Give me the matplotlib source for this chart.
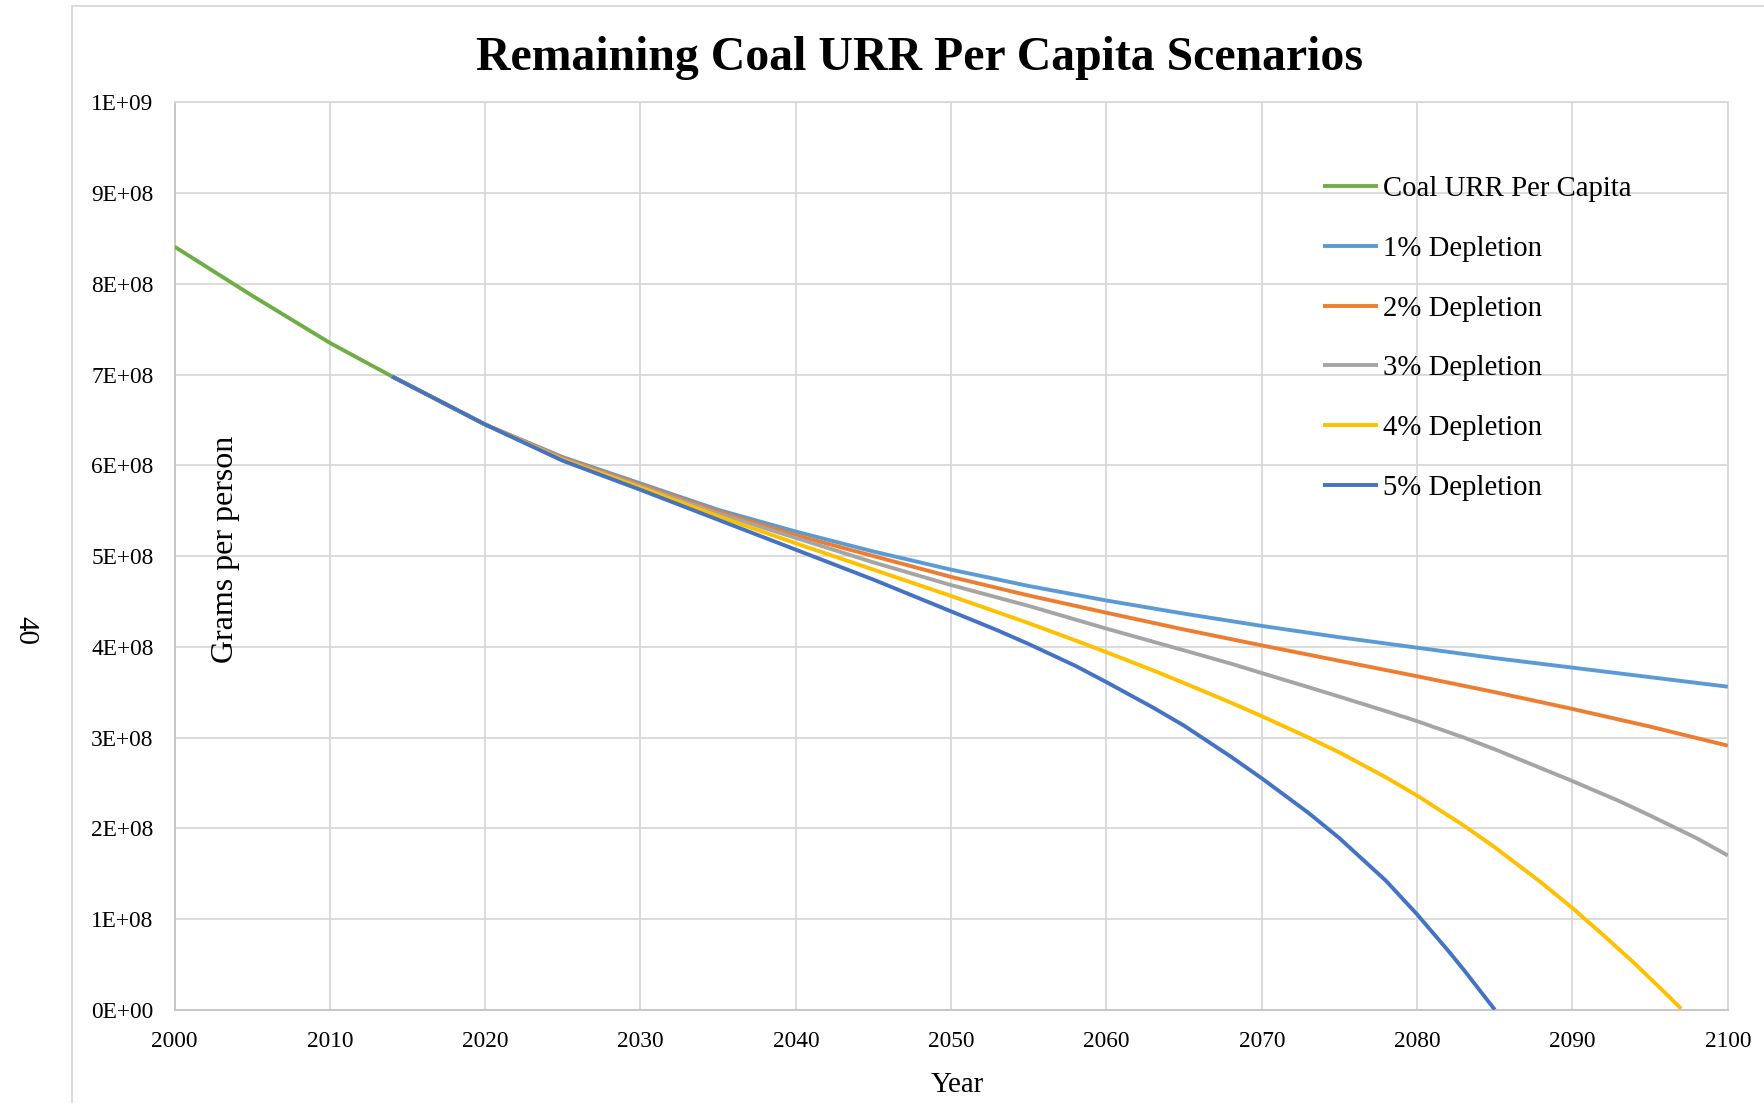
import matplotlib
matplotlib.use('Agg')
import matplotlib.pyplot as plt
from matplotlib.lines import Line2D
from matplotlib.ticker import FuncFormatter, MultipleLocator

plt.rcParams['font.family'] = ['Liberation Serif', 'DejaVu Serif']

# ---------------- data ----------------
hist_years = [2000, 2005, 2010, 2014]
hist_values = [8.41e8, 7.87e8, 7.35e8, 6.98e8]

scen_years = [2014, 2020, 2025, 2030, 2035, 2040, 2045, 2050, 2055, 2060,
              2065, 2070, 2075, 2080, 2085, 2090, 2095, 2100]
dep1 = [6.98e8, 6.45e8, 6.09e8, 5.80e8, 5.51e8, 5.27e8, 5.05e8, 4.85e8, 4.67e8, 4.51e8,
        4.365e8, 4.23e8, 4.105e8, 3.99e8, 3.875e8, 3.77e8, 3.665e8, 3.56e8]
dep2 = [6.98e8, 6.45e8, 6.08e8, 5.785e8, 5.49e8, 5.23e8, 5.00e8, 4.77e8, 4.565e8, 4.375e8,
        4.19e8, 4.015e8, 3.845e8, 3.675e8, 3.50e8, 3.315e8, 3.12e8, 2.91e8]

dep3_years = [2014, 2020, 2025, 2030, 2035, 2040, 2045, 2050, 2055, 2060,
              2065, 2068, 2070, 2073, 2075, 2078, 2080, 2083, 2085, 2088, 2090,
              2093, 2095, 2098, 2100]
dep3 = [6.98e8, 6.45e8, 6.07e8, 5.77e8, 5.47e8, 5.20e8, 4.93e8, 4.68e8, 4.45e8, 4.20e8,
        3.96e8, 3.815e8, 3.71e8, 3.555e8, 3.45e8, 3.29e8, 3.18e8, 3.00e8, 2.87e8, 2.66e8,
        2.52e8, 2.30e8, 2.14e8, 1.89e8, 1.70e8]

dep4_years = [2014, 2020, 2025, 2030, 2035, 2040, 2045, 2050, 2053, 2055, 2058, 2060,
              2063, 2065, 2068, 2070, 2073, 2075, 2078, 2080, 2083, 2085, 2088, 2090,
              2092, 2094, 2096, 2097]
dep4 = [6.98e8, 6.45e8, 6.06e8, 5.755e8, 5.44e8, 5.14e8, 4.85e8, 4.56e8, 4.38e8, 4.26e8,
        4.07e8, 3.94e8, 3.74e8, 3.60e8, 3.385e8, 3.235e8, 3.00e8, 2.835e8, 2.56e8, 2.36e8,
        2.03e8, 1.79e8, 1.40e8, 1.12e8, 0.82e8, 0.51e8, 0.18e8, 0.01e8]

dep5_years = [2014, 2020, 2025, 2030, 2035, 2040, 2045, 2050, 2053, 2055, 2058, 2060,
              2063, 2065, 2068, 2070, 2073, 2075, 2078, 2080, 2082, 2083, 2084, 2085]
dep5 = [6.98e8, 6.45e8, 6.05e8, 5.73e8, 5.40e8, 5.07e8, 4.74e8, 4.39e8, 4.18e8, 4.03e8,
        3.79e8, 3.61e8, 3.33e8, 3.13e8, 2.79e8, 2.55e8, 2.17e8, 1.89e8, 1.42e8, 1.05e8,
        0.65e8, 0.44e8, 0.22e8, 0.0]

series_labels = ["Coal URR Per Capita", "1% Depletion", "2% Depletion",
                 "3% Depletion", "4% Depletion", "5% Depletion"]
series_colors = ["#70AD47", "#5B9BD5", "#ED7D31", "#A5A5A5", "#FFC000", "#4472C4"]

x_ticks = list(range(2000, 2101, 10))

# ---------------- figure ----------------
W, H = 1765, 1103
fig = plt.figure(figsize=(W / 100, H / 100), dpi=100)

# outer chart frame (left and top edges visible)
frame_col = '#D9D9D9'
fig.add_artist(Line2D([72 / W, 72 / W], [0, 1 - 6 / H], color=frame_col, lw=1.3,
                      transform=fig.transFigure))
fig.add_artist(Line2D([72 / W, 1], [1 - 6 / H, 1 - 6 / H], color=frame_col, lw=1.3,
                      transform=fig.transFigure))

left, right = 174.5 / W, 1727.8 / W
bottom, top = 1 - 1009.7 / H, 1 - 102.4 / H
ax = fig.add_axes([left, bottom, right - left, top - bottom])

series = [(hist_years, hist_values), (scen_years, dep1), (scen_years, dep2),
          (dep3_years, dep3), (dep4_years, dep4), (dep5_years, dep5)]
for i, ((xs, ys), lab, col) in enumerate(zip(series, series_labels, series_colors)):
    ax.plot(xs, ys, color=col, lw=2.8, label=lab, zorder=3 + i,
            solid_capstyle='butt', solid_joinstyle='round')

ax.set_xlim(2000, 2100)
ax.set_ylim(0, 1e9)
ax.set_xticks(x_ticks)
ax.yaxis.set_major_locator(MultipleLocator(1e8))
ax.yaxis.set_major_formatter(FuncFormatter(lambda v, p: format(v, '.0E')))

ax.grid(True, color='#D9D9D9', lw=1.3, zorder=0)
ax.set_axisbelow(True)
for s in ['top', 'right']:
    ax.spines[s].set_color('#D9D9D9')
    ax.spines[s].set_linewidth(1.3)
for s in ['left', 'bottom']:
    ax.spines[s].set_color('#C4C4C4')
    ax.spines[s].set_linewidth(1.3)

ax.tick_params(axis='both', length=0, labelsize=16.8, colors='black', pad=15)

fig.text(957 / W, 1 - 1085.5 / H, 'Year', fontsize=20.8, ha='center', va='center')

fig.text(226 / W, 1 - 549 / H, 'Grams per person', rotation=90, fontsize=23,
         ha='center', va='center')
fig.text(25 / W, 1 - 630 / H, '40', rotation=270, fontsize=20.8,
         ha='center', va='center')

fig.text(920 / W, 1 - 57.5 / H, 'Remaining Coal URR Per Capita Scenarios',
         fontsize=34.4, fontweight='bold', ha='center', va='center')

leg = ax.legend(loc='upper left', bbox_to_anchor=(1323 / W, 1 - 176 / H),
                bbox_transform=fig.transFigure, frameon=False, fontsize=20.7,
                handlelength=1.9, handletextpad=0.18, labelspacing=1.17,
                borderpad=0, borderaxespad=0)

fig.savefig('out.png', dpi=100)
